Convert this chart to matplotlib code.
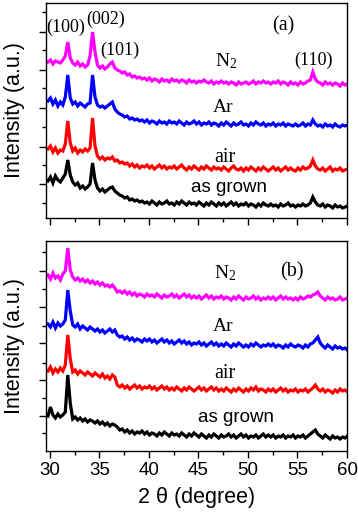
import numpy as np
import matplotlib
matplotlib.use('Agg')
import matplotlib.pyplot as plt
from matplotlib.ticker import MultipleLocator

#%% data (intensities, arbitrary units)
two_theta = np.arange(122)*0.25 + 29.8   # sampling grid, 29.8 .. 60.05

# panel (a)
a_n2 = [156, 158, 154, 157, 156, 155, 158, 162, 176, 160,
        155, 153, 156, 152, 154, 151, 153, 162, 186, 166,
        153, 150, 152, 149, 151, 154, 156, 150, 148, 147,
        145, 146, 143, 144, 141, 142, 140, 141, 139, 140,
        138, 140, 137, 139, 138, 136, 139, 137, 138, 136,
        139, 137, 138, 136, 138, 137, 135, 138, 136, 137,
        135, 137, 136, 138, 136, 135, 137, 134, 136, 135,
        137, 135, 136, 134, 136, 135, 133, 136, 134, 135,
        136, 134, 135, 137, 134, 136, 135, 137, 135, 136,
        134, 136, 135, 137, 134, 136, 135, 133, 136, 134,
        135, 133, 136, 134, 135, 137, 138, 146, 139, 136,
        135, 133, 136, 134, 135, 133, 135, 134, 132, 135,
        133, 134]
a_ar = [117, 120, 114, 118, 112, 116, 113, 121, 143, 120,
        114, 116, 112, 115, 113, 111, 114, 115, 143, 121,
        113, 111, 112, 110, 112, 114, 116, 109, 106, 104,
        103, 101, 102, 99, 100, 98, 99, 97, 98, 96,
        98, 95, 97, 96, 94, 97, 95, 96, 94, 97,
        95, 96, 94, 97, 95, 93, 96, 94, 95, 97,
        94, 96, 93, 95, 94, 96, 93, 95, 94, 92,
        95, 93, 96, 94, 92, 95, 93, 94, 96, 93,
        94, 92, 95, 93, 96, 94, 93, 95, 92, 94,
        93, 95, 92, 94, 93, 95, 92, 94, 93, 92,
        94, 92, 93, 95, 92, 94, 93, 98, 94, 92,
        93, 91, 94, 92, 93, 91, 94, 92, 91, 93,
        92, 93]
a_air = [69, 72, 66, 70, 65, 68, 67, 74, 97, 75,
         67, 70, 65, 68, 66, 69, 67, 70, 100, 72,
         62, 59, 61, 58, 60, 59, 61, 57, 58, 55,
         56, 54, 55, 52, 54, 51, 53, 50, 52, 51,
         53, 50, 52, 49, 51, 53, 50, 52, 49, 51,
         50, 52, 49, 51, 53, 50, 48, 51, 49, 52,
         50, 48, 51, 49, 52, 50, 48, 51, 49, 50,
         48, 51, 49, 47, 50, 52, 49, 48, 50, 47,
         50, 48, 51, 49, 47, 50, 48, 51, 49, 47,
         49, 51, 48, 50, 47, 49, 51, 48, 50, 48,
         47, 50, 48, 51, 49, 50, 52, 58, 52, 49,
         48, 50, 47, 49, 51, 47, 49, 48, 50, 47,
         48, 49]
a_grown = [37, 41, 35, 42, 38, 36, 40, 44, 58, 43,
           36, 33, 35, 30, 32, 29, 31, 34, 55, 38,
           30, 27, 29, 26, 28, 30, 31, 27, 25, 23,
           22, 20, 21, 18, 19, 17, 18, 16, 17, 15,
           16, 14, 17, 15, 13, 16, 14, 15, 17, 14,
           15, 13, 16, 14, 17, 15, 13, 16, 14, 15,
           13, 16, 14, 12, 15, 13, 16, 14, 12, 15,
           13, 15, 12, 14, 16, 13, 15, 12, 14, 13,
           15, 12, 14, 13, 11, 14, 12, 15, 13, 12,
           14, 12, 13, 11, 14, 12, 13, 15, 12, 13,
           11, 13, 12, 14, 12, 13, 15, 21, 16, 13,
           12, 14, 11, 13, 12, 10, 13, 11, 12, 10,
           11, 12]

# panel (b)
b_n2 = [176, 172, 178, 173, 175, 171, 177, 180, 203, 181,
        174, 171, 173, 170, 172, 169, 171, 168, 170, 167,
        169, 166, 168, 165, 166, 164, 166, 163, 159, 160,
        158, 160, 157, 159, 156, 158, 155, 157, 156, 154,
        157, 155, 156, 154, 157, 155, 153, 156, 154, 155,
        157, 154, 156, 153, 155, 157, 154, 156, 153, 155,
        153, 155, 152, 154, 156, 153, 155, 152, 154, 153,
        155, 152, 154, 153, 151, 154, 152, 155, 153, 151,
        154, 152, 153, 155, 152, 154, 151, 153, 152, 154,
        152, 154, 151, 153, 155, 152, 154, 152, 153, 151,
        153, 151, 154, 152, 153, 155, 154, 156, 157, 159,
        155, 153, 151, 154, 152, 153, 151, 152, 154, 151,
        152, 153]
b_ar = [127, 124, 129, 123, 128, 125, 127, 131, 161, 140,
        126, 124, 127, 122, 125, 123, 121, 124, 122, 120,
        122, 119, 121, 118, 120, 122, 119, 121, 116, 114,
        115, 112, 114, 111, 113, 110, 112, 111, 109, 112,
        110, 112, 109, 111, 108, 110, 112, 109, 111, 108,
        110, 107, 109, 111, 108, 110, 107, 109, 106, 108,
        107, 109, 106, 108, 105, 107, 109, 106, 108, 105,
        107, 105, 108, 106, 104, 107, 105, 108, 106, 104,
        106, 104, 107, 105, 108, 106, 104, 106, 105, 107,
        105, 107, 104, 106, 105, 103, 106, 104, 107, 105,
        104, 106, 105, 103, 106, 104, 107, 108, 111, 114,
        108, 105, 103, 106, 104, 102, 105, 103, 104, 102,
        103, 101]
b_air = [80, 84, 78, 82, 79, 83, 80, 86, 116, 92,
         79, 81, 77, 80, 78, 76, 79, 77, 75, 78,
         76, 74, 77, 73, 75, 72, 76, 74, 66, 64,
         66, 63, 65, 62, 64, 66, 63, 65, 62, 64,
         63, 65, 62, 64, 61, 63, 65, 62, 64, 61,
         63, 61, 64, 62, 60, 63, 61, 64, 62, 60,
         62, 64, 61, 63, 60, 62, 64, 61, 63, 60,
         62, 60, 63, 61, 59, 62, 60, 63, 61, 59,
         62, 60, 63, 61, 64, 60, 62, 61, 59, 62,
         60, 62, 59, 61, 63, 60, 62, 59, 61, 60,
         62, 59, 61, 60, 62, 59, 61, 63, 66, 62,
         60, 62, 59, 61, 60, 58, 61, 59, 62, 60,
         61, 59]
b_grown = [35, 44, 36, 33, 37, 34, 36, 39, 76, 48,
           32, 34, 31, 33, 30, 32, 29, 31, 30, 28,
           30, 27, 29, 26, 28, 25, 27, 26, 24, 21,
           22, 19, 21, 18, 20, 17, 19, 18, 20, 17,
           19, 16, 18, 17, 15, 18, 16, 19, 17, 15,
           18, 16, 17, 15, 18, 16, 14, 17, 15, 18,
           16, 14, 17, 15, 13, 16, 14, 17, 15, 13,
           16, 14, 15, 17, 14, 16, 13, 15, 17, 14,
           16, 13, 15, 14, 16, 13, 15, 17, 14, 16,
           14, 16, 13, 15, 14, 16, 13, 15, 14, 16,
           13, 15, 14, 16, 13, 15, 17, 19, 21, 17,
           15, 13, 16, 14, 12, 15, 13, 14, 12, 14,
           13, 15]

colors = ['#ff00ff', '#0000ff', '#ff0000', 'k']

#%% plotting
serif = 'Liberation Serif'
sans = 'Liberation Sans'
plt.rcParams['font.family'] = sans
plt.rcParams['mathtext.fontset'] = 'custom'
plt.rcParams['mathtext.rm'] = serif
plt.rcParams['mathtext.it'] = serif + ':italic'

fig = plt.figure(figsize=(3.58, 5.16), dpi=100)
ax0 = fig.add_axes([46/358, 1-218/516, 301/358, 215/516])
ax1 = fig.add_axes([46/358, 1-451/516, 301/358, 210/516])

for ax, curves in [(ax0, [a_n2, a_ar, a_air, a_grown]),
                   (ax1, [b_n2, b_ar, b_air, b_grown])]:
    for c, col in zip(curves, colors):
        ax.plot(two_theta, c, color=col, lw=2.3, solid_joinstyle='miter')
    ax.set_xlim(29.6, 60)
    ax.xaxis.set_major_locator(MultipleLocator(5))
    ax.xaxis.set_minor_locator(MultipleLocator(2.5))
    ax.tick_params(which='both', direction='out', top=False, right=False, width=1)
    ax.tick_params(which='major', length=5)
    ax.tick_params(which='minor', length=3)
    ax.tick_params(axis='y', labelleft=False)
    for s in ax.spines.values():
        s.set_linewidth(1.0)

ax0.set_ylim(0, 215)
ax0.set_yticks([34, 71, 110, 148, 186])
ax0.set_yticks([15, 53, 91, 130, 168, 206], minor=True)
ax0.tick_params(axis='x', labelbottom=False)

ax1.set_ylim(0, 210)
ax1.set_yticks([35, 71, 108, 144, 180])
ax1.set_yticks([18, 53, 88, 125, 162, 199], minor=True)
ax1.tick_params(axis='x', labelsize=13.5, pad=3)
ax1.set_xlabel('2 θ (degree)', fontsize=15.5, labelpad=6)

for ax in (ax0, ax1):
    ax.set_ylabel('Intensity (a.u.)', fontsize=15.5, labelpad=9)

# peak indices and sample names
ax0.text(31.6, 191, '(100)', family=serif, fontsize=13, ha='center', va='center')
ax0.text(35.6, 199, '(002)', family=serif, fontsize=13, ha='center', va='center')
ax0.text(37.1, 168, '(101)', family=serif, fontsize=13, ha='center', va='center')
ax0.text(56.6, 158, '(110)', family=serif, fontsize=13, ha='center', va='center')
ax0.text(53.6, 192, '(a)', family=serif, fontsize=14.5, ha='center', va='center')
ax0.text(47.8, 157, 'N$_2$', family=serif, fontsize=14, ha='center', va='center')
ax0.text(47.5, 110, 'Ar', family=serif, fontsize=14, ha='center', va='center')
ax0.text(47.7, 61, 'air', family=serif, fontsize=14.5, ha='center', va='center')
ax0.text(48.1, 30, 'as grown', fontsize=13.5, ha='center', va='center')

ax1.text(47.7, 178, 'N$_2$', family=serif, fontsize=14, ha='center', va='center')
ax1.text(54.4, 179, '(b)', family=serif, fontsize=14.5, ha='center', va='center')
ax1.text(47.5, 124, 'Ar', family=serif, fontsize=14, ha='center', va='center')
ax1.text(47.7, 77, 'air', family=serif, fontsize=14.5, ha='center', va='center')
ax1.text(48.8, 34, 'as grown', fontsize=13.5, ha='center', va='center')

fig.savefig('out.png', dpi=100)
